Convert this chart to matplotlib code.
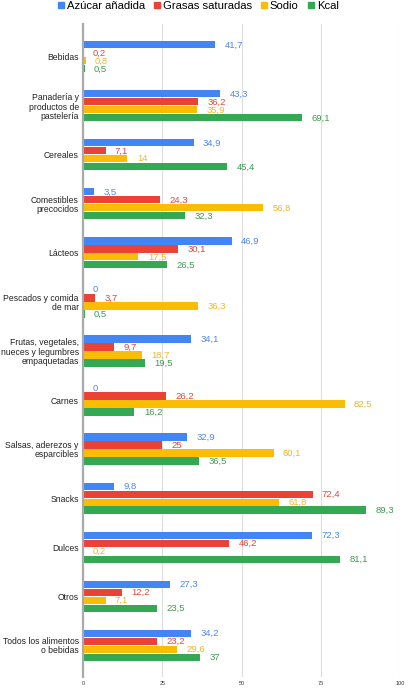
import matplotlib
matplotlib.use("Agg")
import matplotlib.pyplot as plt
import numpy as np
from matplotlib.patches import Patch

categories = [
    "Bebidas",
    "Panadería y\nproductos de\npastelería",
    "Cereales",
    "Comestibles\nprecocidos",
    "Lácteos",
    "Pescados y comida\nde mar",
    "Frutas, vegetales,\nnueces y legumbres\nempaquetadas",
    "Carnes",
    "Salsas, aderezos y\nesparcibles",
    "Snacks",
    "Dulces",
    "Otros",
    "Todos los alimentos\no bebidas",
]
series_names = ["Azúcar añadida", "Grasas saturadas", "Sodio", "Kcal"]
azucar = [41.7, 43.3, 34.9, 3.5, 46.9, 0, 34.1, 0, 32.9, 9.8, 72.3, 27.3, 34.2]
grasas = [0.2, 36.2, 7.1, 24.3, 30.1, 3.7, 9.7, 26.2, 25, 72.4, 46.2, 12.2, 23.2]
sodio = [0.8, 35.9, 14, 56.8, 17.5, 36.3, 18.7, 82.5, 60.1, 61.8, 0.2, 7.1, 29.6]
kcal = [0.5, 69.1, 45.4, 32.3, 26.5, 0.5, 19.5, 16.2, 36.5, 89.3, 81.1, 23.5, 37]
xticks = [0, 25, 50, 75, 100]

colors = ["#4285F4", "#EA4335", "#FBBC04", "#34A853"]
label_colors = ["#4f86ec", "#e0473c", "#f2b627", "#3f9a52"]

plt.rcParams['font.family'] = ['Liberation Sans', 'DejaVu Sans']

fig = plt.figure(figsize=(4.11, 6.93), dpi=100)
ax = fig.add_axes([83/411, 1 - 677/693, (400 - 83)/411, (677 - 24)/693])

y = np.arange(len(categories))
step = 0.163
h = 0.145
all_series = [azucar, grasas, sodio, kcal]
for i, vals in enumerate(all_series):
    pos = y + (i - 1.5) * step
    ax.barh(pos, vals, height=h, color=colors[i], zorder=3)
    for p, v in zip(pos, vals):
        txt = (f"{v:g}").replace(".", ",")
        ax.annotate(txt, (v, p), xytext=(6.8, 0), textcoords="offset points",
                    va="center", ha="left", fontsize=6.8, color=label_colors[i])

ax.set_ylim(12.65, -0.67)
ax.set_xlim(0, 100)
ax.set_yticks(y)
ax.set_yticklabels(categories, fontsize=6.2, color="#222222", linespacing=1.05)
ax.set_xticks(xticks)
ax.set_xticklabels([str(t) for t in xticks], fontsize=4, color="#333333")
ax.tick_params(axis="both", length=0, pad=3)
ax.tick_params(axis="x", pad=3)
ax.grid(axis="x", color="#dddddd", linewidth=0.8, zorder=0)
for s in ["top", "right", "bottom"]:
    ax.spines[s].set_visible(False)
ax.spines["left"].set_color("#aaaaaa")
ax.spines["left"].set_linewidth(1.6)
ax.spines["left"].set_zorder(4)

handles = [Patch(color=c) for c in colors]
fig.legend(handles, series_names, loc="center", bbox_to_anchor=(0.482, 1 - 6/693),
           ncol=4, frameon=False, fontsize=8.1, handlelength=0.55, handleheight=0.55,
           handletextpad=0.25, columnspacing=0.8, borderpad=0)

fig.savefig("out.png", dpi=100)
